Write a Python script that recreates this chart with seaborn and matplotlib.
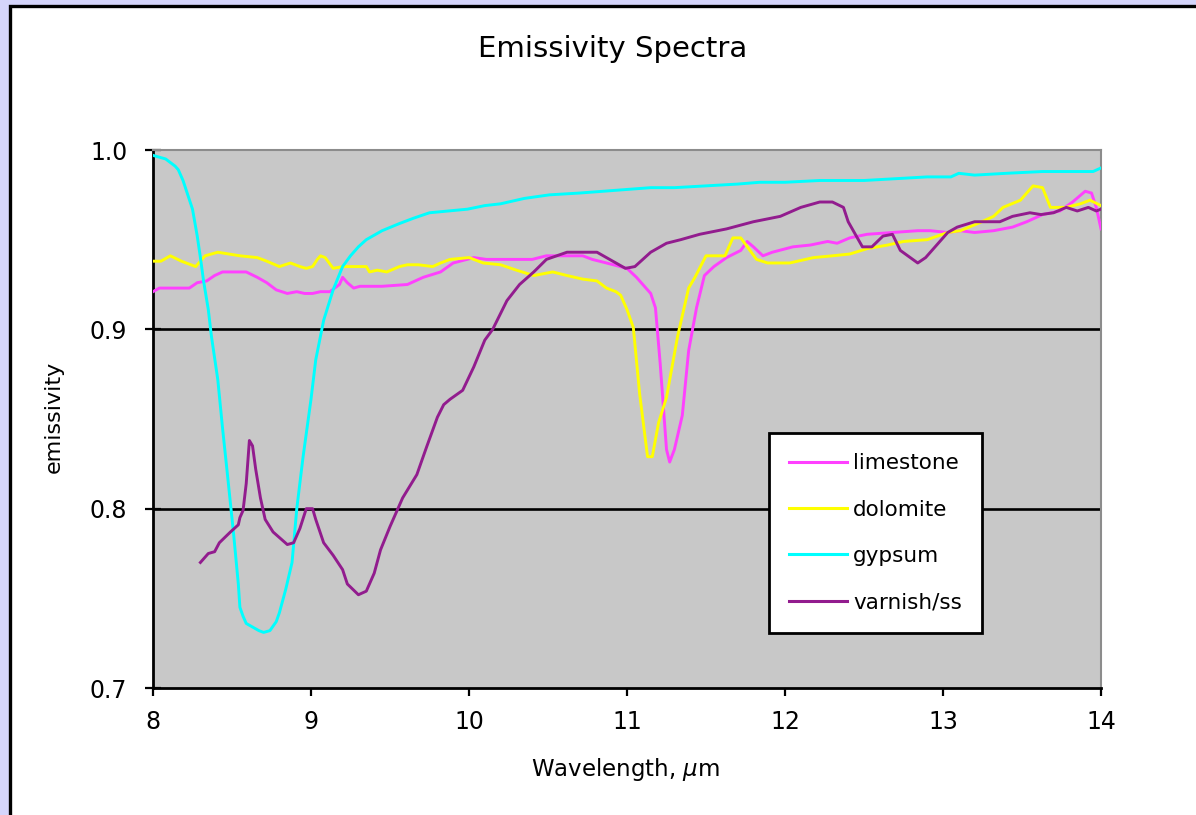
import matplotlib
matplotlib.use("Agg")
import matplotlib.pyplot as plt
from matplotlib.patches import Rectangle
from matplotlib.ticker import FormatStrFormatter
import numpy as np
import pandas as pd
import seaborn as sns

# ---------------- data ----------------
series = ["limestone", "dolomite", "gypsum", "varnish/ss"]
colors = ["#FF40FF", "#FFFF00", "#00FFFF", "#921C8E"]

limestone_x = [8.0, 8.04, 8.15, 8.23, 8.28, 8.34, 8.39, 8.44, 8.52, 8.59, 8.66, 8.72, 8.78, 8.85, 8.91, 8.96,
               9.01, 9.06, 9.12, 9.18, 9.2, 9.23, 9.27, 9.31, 9.45, 9.61, 9.66, 9.71, 9.82, 9.9, 10.03, 10.11,
               10.2, 10.3, 10.4, 10.49, 10.62, 10.72, 10.78, 10.87, 11.0, 11.06, 11.15, 11.18, 11.21, 11.25,
               11.27, 11.3, 11.35, 11.39, 11.44, 11.49, 11.55, 11.63, 11.72, 11.76, 11.8, 11.86, 11.92, 12.05,
               12.16, 12.27, 12.33, 12.41, 12.52, 12.68, 12.84, 12.92, 13.03, 13.11, 13.2, 13.32, 13.44, 13.53,
               13.63, 13.74, 13.82, 13.9, 13.94, 13.97, 14.0]
limestone_y = [0.921, 0.923, 0.923, 0.923, 0.926, 0.927, 0.930, 0.932, 0.932, 0.932, 0.929, 0.926, 0.922, 0.920,
               0.921, 0.920, 0.920, 0.921, 0.921, 0.925, 0.929, 0.926, 0.923, 0.924, 0.924, 0.925, 0.927, 0.929,
               0.932, 0.937, 0.940, 0.939, 0.939, 0.939, 0.939, 0.941, 0.941, 0.941, 0.939, 0.937, 0.934, 0.929,
               0.920, 0.912, 0.881, 0.833, 0.826, 0.833, 0.852, 0.888, 0.912, 0.930, 0.935, 0.940, 0.944, 0.949,
               0.946, 0.941, 0.943, 0.946, 0.947, 0.949, 0.948, 0.951, 0.953, 0.954, 0.955, 0.955, 0.954, 0.955,
               0.954, 0.955, 0.957, 0.960, 0.964, 0.966, 0.971, 0.977, 0.976, 0.968, 0.956]

dolomite_x = [8.0, 8.05, 8.11, 8.18, 8.27, 8.33, 8.41, 8.48, 8.55, 8.66, 8.72, 8.8, 8.87, 8.93, 8.97, 9.01, 9.04,
              9.06, 9.09, 9.14, 9.2, 9.28, 9.35, 9.37, 9.42, 9.48, 9.56, 9.61, 9.68, 9.77, 9.82, 9.88, 10.0,
              10.09, 10.2, 10.3, 10.41, 10.53, 10.62, 10.72, 10.81, 10.87, 10.93, 10.96, 11.0, 11.04, 11.08,
              11.13, 11.16, 11.2, 11.25, 11.32, 11.39, 11.43, 11.5, 11.62, 11.67, 11.72, 11.77, 11.82, 11.89,
              12.03, 12.18, 12.3, 12.41, 12.52, 12.65, 12.75, 12.9, 13.03, 13.11, 13.22, 13.32, 13.38, 13.49,
              13.57, 13.63, 13.68, 13.78, 13.87, 13.93, 14.0]
dolomite_y = [0.938, 0.938, 0.941, 0.938, 0.935, 0.941, 0.943, 0.942, 0.941, 0.940, 0.938, 0.935, 0.937, 0.935,
              0.934, 0.935, 0.939, 0.941, 0.940, 0.934, 0.935, 0.935, 0.935, 0.932, 0.933, 0.932, 0.935, 0.936,
              0.936, 0.935, 0.937, 0.939, 0.940, 0.937, 0.936, 0.933, 0.930, 0.932, 0.930, 0.928, 0.927, 0.923,
              0.921, 0.919, 0.911, 0.901, 0.864, 0.829, 0.829, 0.848, 0.862, 0.896, 0.923, 0.929, 0.941, 0.941,
              0.951, 0.951, 0.945, 0.939, 0.937, 0.937, 0.940, 0.941, 0.942, 0.945, 0.947, 0.949, 0.950, 0.954,
              0.955, 0.959, 0.963, 0.968, 0.972, 0.980, 0.979, 0.968, 0.968, 0.970, 0.972, 0.969]

gypsum_x = [8.0, 8.04, 8.08, 8.11, 8.14, 8.16, 8.19, 8.22, 8.25, 8.28, 8.3, 8.32, 8.35, 8.37, 8.41, 8.44, 8.47,
            8.51, 8.54, 8.55, 8.57, 8.59, 8.63, 8.67, 8.7, 8.74, 8.78, 8.8, 8.84, 8.88, 8.91, 8.95, 9.0, 9.03,
            9.08, 9.14, 9.2, 9.25, 9.3, 9.35, 9.45, 9.56, 9.65, 9.75, 9.87, 9.99, 10.1, 10.2, 10.35, 10.51,
            10.7, 10.85, 11.0, 11.15, 11.3, 11.5, 11.7, 11.84, 12.0, 12.22, 12.5, 12.7, 12.9, 13.05, 13.1, 13.2,
            13.4, 13.63, 13.8, 13.95, 14.0]
gypsum_y = [0.997, 0.996, 0.995, 0.993, 0.991, 0.989, 0.983, 0.975, 0.967, 0.952, 0.940, 0.927, 0.911, 0.896,
            0.872, 0.845, 0.820, 0.786, 0.758, 0.745, 0.740, 0.736, 0.734, 0.732, 0.731, 0.732, 0.737, 0.742,
            0.755, 0.770, 0.800, 0.829, 0.861, 0.883, 0.905, 0.922, 0.935, 0.941, 0.946, 0.950, 0.955, 0.959,
            0.962, 0.965, 0.966, 0.967, 0.969, 0.970, 0.973, 0.975, 0.976, 0.977, 0.978, 0.979, 0.979, 0.980,
            0.981, 0.982, 0.982, 0.983, 0.983, 0.984, 0.985, 0.985, 0.987, 0.986, 0.987, 0.988, 0.988, 0.988,
            0.990]

varnish_x = [8.3, 8.35, 8.39, 8.42, 8.49, 8.54, 8.55, 8.57, 8.59, 8.61, 8.63, 8.65, 8.68, 8.71, 8.76, 8.85, 8.89,
             8.93, 8.97, 9.01, 9.03, 9.08, 9.14, 9.2, 9.23, 9.3, 9.35, 9.4, 9.44, 9.5, 9.58, 9.67, 9.73, 9.8,
             9.84, 9.88, 9.96, 10.03, 10.1, 10.15, 10.24, 10.32, 10.41, 10.49, 10.62, 10.7, 10.81, 10.89, 10.99,
             11.05, 11.15, 11.25, 11.34, 11.46, 11.63, 11.8, 11.97, 12.1, 12.22, 12.3, 12.37, 12.4, 12.49, 12.55,
             12.62, 12.68, 12.73, 12.84, 12.89, 13.03, 13.09, 13.2, 13.36, 13.44, 13.55, 13.62, 13.7, 13.78,
             13.85, 13.92, 13.97, 14.0]
varnish_y = [0.770, 0.775, 0.776, 0.781, 0.787, 0.791, 0.795, 0.799, 0.814, 0.838, 0.835, 0.822, 0.806, 0.794,
             0.787, 0.780, 0.781, 0.789, 0.800, 0.800, 0.794, 0.781, 0.774, 0.766, 0.758, 0.752, 0.754, 0.764,
             0.777, 0.790, 0.806, 0.819, 0.834, 0.851, 0.858, 0.861, 0.866, 0.879, 0.894, 0.900, 0.916, 0.925,
             0.932, 0.939, 0.943, 0.943, 0.943, 0.939, 0.934, 0.935, 0.943, 0.948, 0.950, 0.953, 0.956, 0.960,
             0.963, 0.968, 0.971, 0.971, 0.968, 0.960, 0.946, 0.946, 0.952, 0.953, 0.944, 0.937, 0.940, 0.954,
             0.957, 0.960, 0.960, 0.963, 0.965, 0.964, 0.965, 0.968, 0.966, 0.968, 0.966, 0.967]

x_ticks = [8, 9, 10, 11, 12, 13, 14]
y_ticks = [0.7, 0.8, 0.9, 1.0]
grid_levels = [0.8, 0.9]

# ---------------- build long table ----------------
frames = []
for name, xs, ys in zip(series,
                        [limestone_x, dolomite_x, gypsum_x, varnish_x],
                        [limestone_y, dolomite_y, gypsum_y, varnish_y]):
    frames.append(pd.DataFrame({"wavelength": xs, "emissivity": ys, "sample": name}))
df = pd.concat(frames, ignore_index=True)

# ---------------- figure ----------------
plt.rcParams["font.family"] = ["DejaVu Sans"]
W, H = 1196, 815
fig = plt.figure(figsize=(W / 100, H / 100), dpi=100, facecolor="#D5D5FB")
panel = Rectangle((10 / W, -0.05), 1.2, 1 - 6 / H + 0.05, transform=fig.transFigure,
                  facecolor="white", edgecolor="black", linewidth=2.4, zorder=-10)
fig.patches.append(panel)

ax = fig.add_axes([153 / W, 1 - 688 / H, 948 / W, 538 / H])
ax.set_facecolor("#C8C8C8")

for lvl in grid_levels:
    ax.axhline(lvl, color="black", linewidth=1.9, zorder=1)

sns.lineplot(data=df, x="wavelength", y="emissivity", hue="sample", hue_order=series,
             palette=colors, sort=False, estimator=None, linewidth=2.1, ax=ax, zorder=3)

ax.set_xlim(8, 14)
ax.set_ylim(0.7, 1.0)
ax.set_xticks(x_ticks)
ax.set_yticks(y_ticks)
ax.yaxis.set_major_formatter(FormatStrFormatter("%.1f"))

for side in ["top", "right"]:
    ax.spines[side].set_color("#8C8C8C")
    ax.spines[side].set_linewidth(1.5)
for side in ["left", "bottom"]:
    ax.spines[side].set_color("black")
    ax.spines[side].set_linewidth(2.0)

ax.tick_params(axis="y", direction="inout", length=11, width=1.6, labelsize=17, pad=13, colors="black")
ax.tick_params(axis="x", direction="out", length=6, width=1.6, labelsize=17, pad=10, colors="black")

ax.set_title("Emissivity Spectra", fontsize=21, x=0.485, y=1.172, pad=0)
ax.set_ylabel("emissivity", fontsize=16, va="center")
ax.yaxis.set_label_coords(-0.1044, 0.504)
ax.set_xlabel(r"Wavelength, $\mu$m", fontsize=16.5, va="center")
ax.xaxis.set_label_coords(0.498, -0.152)

handles, labels = ax.get_legend_handles_labels()
for h in handles:
    h.set_linewidth(2.2)
leg = ax.legend(handles, labels, loc="upper left", bbox_to_anchor=(0.6498, 0.474),
                fontsize=15.5, frameon=True, fancybox=False, shadow=False,
                handlelength=2.65, handletextpad=0.3, labelspacing=1.22,
                borderpad=0.95, borderaxespad=0)
leg.get_frame().set_edgecolor("black")
leg.get_frame().set_linewidth(2.0)
leg.get_frame().set_facecolor("white")
leg.get_frame().set_alpha(1)

fig.savefig("out.png", dpi=100, facecolor=fig.get_facecolor())
